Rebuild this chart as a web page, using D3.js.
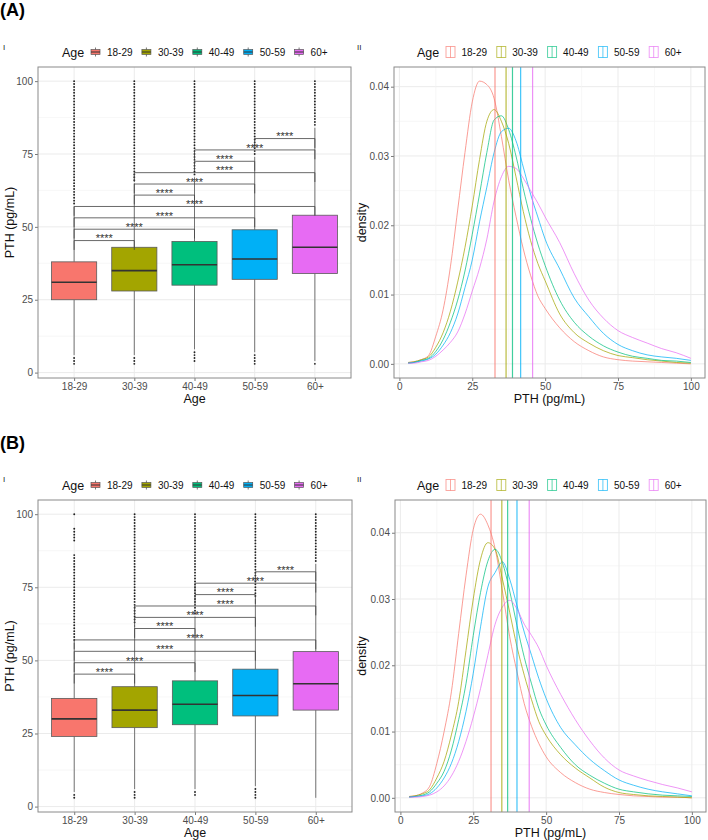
<!DOCTYPE html>
<html><head><meta charset="utf-8">
<script src="https://cdn.jsdelivr.net/npm/d3@7"></script>
<style>body{margin:0;background:#fff;} svg{display:block;}</style>
</head><body><svg id="c" width="708" height="840"></svg>
<script>
// ---------------- DATA ----------------
const ageGroups = ["18-29","30-39","40-49","50-59","60+"];
const colors = ["#F8766D","#A3A500","#00BF7D","#00B0F6","#E76BF3"];
const boxYTicks = [0,25,50,75,100];
const densXTicks = [0,25,50,75,100];
const densYTicks = [0,0.01,0.02,0.03,0.04];

// Panel A boxplot stats
const boxA_q1  = [25,28,30,32,34];
const boxA_med = [31,35,37,39,43];
const boxA_q3  = [38,43,45,49,54];
const boxA_lo  = [6,6,8,7,4];
const boxA_hi  = [57,65,67,74,84];
const outA_1829 = [3,4,5,58,59,60,61,62,63,64,65,66,67,68,69,70,71,72,73,74,75,76,77,78,79,80,81,82,83,84,85,86,87,88,89,90,91,92,93,94,95,96,97,98,99,100];
const outA_3039 = [3,4,5,66,67,68,69,70,71,72,73,74,75,76,77,78,79,80,81,82,83,84,85,86,87,88,89,90,91,92,93,94,95,96,97,98,99,100];
const outA_4049 = [4,5,6,7,68,69,70,71,72,73,74,75,76,77,78,79,80,81,82,83,84,85,86,87,88,89,90,91,92,93,94,95,96,97,98,99,100];
const outA_5059 = [3,4,5,6,75,76,77,78,79,80,81,82,83,84,85,86,87,88,89,90,91,92,93,94,95,96,97,98,99,100];
const outA_60   = [3,85,86,87,88,89,90,91,92,93,94,95,96,97,98,99,100];

// Panel B boxplot stats
const boxB_q1  = [24,27,28,31,33];
const boxB_med = [30,33,35,38,42];
const boxB_q3  = [37,41,43,47,53];
const boxB_lo  = [5,6,6,7,3];
const boxB_hi  = [56,62,65,71,83];
const outB_1829 = [3,4,57,58,59,60,61,62,63,64,65,66,67,68,69,70,71,72,73,74,75,76,77,78,79,80,81,82,83,84,85,86,91,92,93,94,95,100];
const outB_3039 = [3,4,5,63,64,65,66,67,68,69,70,71,72,73,74,75,76,77,78,79,80,81,82,83,84,85,86,87,88,89,90,91,92,93,94,95,96,97,98,99,100];
const outB_4049 = [4,5,66,67,68,69,70,71,72,73,74,75,76,77,78,79,80,81,82,83,84,85,86,87,88,89,90,91,92,93,94,95,96,97,98,99,100];
const outB_5059 = [3,4,5,6,72,73,74,75,76,77,78,79,80,81,82,83,84,85,86,87,88,89,90,91,92,93,94,95,96,97,98,99,100];
const outB_60   = [84,85,86,87,88,89,90,91,92,93,94,95,96,97,98,99,100];

// significance brackets (same in both panels)
const bracketPairs = [[0,1],[0,2],[0,3],[0,4],[1,2],[1,3],[1,4],[2,3],[2,4],[3,4]];
const bracketY = [45.3,49.2,53.1,57.0,60.9,64.7,68.6,72.5,76.4,80.3];
const bracketLabel = "****";

// density curves
const densX = [3,5,7.5,10,12.5,15,17.5,20,22.5,25,27.5,30,32.5,35,37.5,40,42.5,45,47.5,50,55,60,65,70,75,80,85,90,95,100];
const densA_1829 = [0.0002,0.0003,0.0006,0.0012,0.0040,0.0078,0.0140,0.0222,0.0305,0.0378,0.0408,0.0403,0.0383,0.0328,0.0265,0.0213,0.0166,0.0128,0.0098,0.0080,0.0052,0.0032,0.0019,0.0010,0.0006,0.0004,0.0003,0.0002,0.0001,0.0000];
const densA_3039 = [0.0002,0.0003,0.0006,0.0010,0.0024,0.0045,0.0076,0.0118,0.0168,0.0228,0.0295,0.0350,0.0367,0.0350,0.0318,0.0270,0.0220,0.0178,0.0145,0.0120,0.0072,0.0045,0.0030,0.0019,0.0012,0.0009,0.0006,0.0004,0.0002,0.0001];
const densA_4049 = [0.0001,0.0002,0.0005,0.0008,0.0018,0.0035,0.0060,0.0092,0.0134,0.0187,0.0245,0.0305,0.0352,0.0358,0.0338,0.0300,0.0253,0.0210,0.0173,0.0142,0.0092,0.0060,0.0040,0.0026,0.0017,0.0011,0.0008,0.0005,0.0004,0.0002];
const densA_5059 = [0.0001,0.0002,0.0004,0.0007,0.0014,0.0027,0.0045,0.0072,0.0110,0.0150,0.0205,0.0255,0.0305,0.0335,0.0340,0.0322,0.0284,0.0245,0.0212,0.0180,0.0137,0.0095,0.0068,0.0044,0.0028,0.0019,0.0013,0.0010,0.0008,0.0005];
const densA_60   = [0.0001,0.0001,0.0003,0.0005,0.0011,0.0020,0.0031,0.0046,0.0072,0.0105,0.0138,0.0180,0.0235,0.0270,0.0285,0.0282,0.0268,0.0250,0.0232,0.0212,0.0175,0.0130,0.0092,0.0066,0.0048,0.0038,0.0030,0.0022,0.0016,0.0008];
const meansA = [32.8,36.6,38.8,41.6,45.7];

const densB_1829 = [0.0002,0.0003,0.0007,0.0017,0.0052,0.0100,0.0160,0.0248,0.0335,0.0405,0.0428,0.0412,0.0376,0.0312,0.0243,0.0190,0.0142,0.0108,0.0082,0.0062,0.0038,0.0023,0.0013,0.0008,0.0005,0.0003,0.0002,0.0001,0.0001,0.0000];
const densB_3039 = [0.0002,0.0003,0.0006,0.0012,0.0030,0.0055,0.0095,0.0145,0.0222,0.0300,0.0360,0.0385,0.0375,0.0330,0.0280,0.0228,0.0185,0.0148,0.0115,0.0094,0.0065,0.0045,0.0030,0.0016,0.0008,0.0005,0.0003,0.0002,0.0001,0.0000];
const densB_4049 = [0.0001,0.0002,0.0004,0.0009,0.0022,0.0040,0.0072,0.0118,0.0172,0.0245,0.0310,0.0357,0.0375,0.0355,0.0312,0.0260,0.0212,0.0172,0.0135,0.0110,0.0076,0.0050,0.0034,0.0022,0.0013,0.0009,0.0006,0.0004,0.0003,0.0002];
const densB_5059 = [0.0001,0.0002,0.0003,0.0006,0.0015,0.0030,0.0052,0.0085,0.0130,0.0188,0.0258,0.0318,0.0340,0.0356,0.0330,0.0290,0.0250,0.0215,0.0180,0.0150,0.0106,0.0080,0.0058,0.0041,0.0027,0.0019,0.0013,0.0009,0.0006,0.0003];
const densB_60   = [0.0001,0.0001,0.0002,0.0004,0.0009,0.0018,0.0033,0.0055,0.0085,0.0122,0.0165,0.0215,0.0262,0.0288,0.0298,0.0285,0.0262,0.0245,0.0226,0.0200,0.0156,0.0118,0.0086,0.0060,0.0042,0.0033,0.0026,0.0020,0.0015,0.0009];
const meansB = [31.1,34.8,36.8,40.0,44.2];

// ---------------- DRAWING ----------------
const FONT = '"Liberation Sans", Arial, Helvetica, sans-serif';
const svg = d3.select("#c").style("font-family", FONT);
svg.append("rect").attr("width",708).attr("height",840).attr("fill","#fff");

function expand(lo, hi){ const p = (hi-lo)*0.05; return [lo-p, hi+p]; }

function gridH(g, P, y, vals, major){
  g.selectAll(null).data(vals).join("line")
    .attr("x1",P.x0).attr("x2",P.x1).attr("y1",d=>y(d)).attr("y2",d=>y(d))
    .attr("stroke", major ? "#EBEBEB" : "#F4F4F4").attr("stroke-width", major ? 1 : 0.7);
}
function gridV(g, P, xs, major){
  g.selectAll(null).data(xs).join("line")
    .attr("y1",P.y0).attr("y2",P.y1).attr("x1",d=>d).attr("x2",d=>d)
    .attr("stroke", major ? "#EBEBEB" : "#F4F4F4").attr("stroke-width", major ? 1 : 0.7);
}
function styleAxis(a){
  a.select(".domain").remove();
  a.selectAll(".tick line").attr("stroke","#555").attr("stroke-width",0.8);
  a.selectAll(".tick text").attr("fill","#4D4D4D").style("font-size","10px").style("font-family",FONT);
}
function border(g, P){
  g.append("rect").attr("x",P.x0).attr("y",P.y0).attr("width",P.x1-P.x0).attr("height",P.y1-P.y0)
   .attr("fill","none").attr("stroke","#8a8a8a").attr("stroke-width",1);
}
function axisTitles(g, P, xt, yt, yTitleX){
  g.append("text").attr("x",(P.x0+P.x1)/2).attr("y",P.y1+25).attr("text-anchor","middle")
    .style("font-size","12.5px").attr("fill","#111").text(xt);
  g.append("text").attr("transform",`translate(${yTitleX},${(P.y0+P.y1)/2}) rotate(-90)`)
    .attr("text-anchor","middle").style("font-size","12.5px").attr("fill","#111").text(yt);
}

function boxPanel(P, q1, med, q3, lo, hi, outs, legY, romanY){
  const g = svg.append("g");
  const x = d3.scalePoint().domain(ageGroups).range([P.x0,P.x1]).padding(0.6);
  const y = d3.scaleLinear().domain(expand(3,100)).range([P.y1,P.y0]);
  gridH(g,P,y,[12.5,37.5,62.5,87.5],false);
  gridH(g,P,y,boxYTicks,true);
  gridV(g,P,ageGroups.map(a=>x(a)),true);
  const bw = x.step()*0.75;
  ageGroups.forEach((a,i)=>{
    const cx = x(a);
    g.append("line").attr("x1",cx).attr("x2",cx).attr("y1",y(q3[i])).attr("y2",y(hi[i])).attr("stroke","#555").attr("stroke-width",0.8);
    g.append("line").attr("x1",cx).attr("x2",cx).attr("y1",y(q1[i])).attr("y2",y(lo[i])).attr("stroke","#555").attr("stroke-width",0.8);
    g.append("rect").attr("x",cx-bw/2).attr("y",y(q3[i])).attr("width",bw).attr("height",y(q1[i])-y(q3[i]))
      .attr("fill",colors[i]).attr("stroke","#5a5a5a").attr("stroke-width",0.8);
    g.append("line").attr("x1",cx-bw/2).attr("x2",cx+bw/2).attr("y1",y(med[i])).attr("y2",y(med[i])).attr("stroke","#333").attr("stroke-width",1.6);
    g.selectAll(null).data(outs[i]).join("circle").attr("cx",cx).attr("cy",d=>y(d)).attr("r",0.95).attr("fill","#222");
  });
  const tip = 0.03*(y.domain()[1]-y.domain()[0]);
  bracketPairs.forEach((p,k)=>{
    const xa = x(ageGroups[p[0]]), xb = x(ageGroups[p[1]]), v = bracketY[k];
    g.append("path").attr("d",`M${xa},${y(v-tip)}L${xa},${y(v)}L${xb},${y(v)}L${xb},${y(v-tip)}`)
      .attr("fill","none").attr("stroke","#444").attr("stroke-width",0.8);
    g.append("text").attr("x",(xa+xb)/2).attr("y",y(v)+1.8).attr("text-anchor","middle")
      .style("font-size","11px").attr("fill","#333").text(bracketLabel);
  });
  const ax = g.append("g").attr("transform",`translate(0,${P.y1})`).call(d3.axisBottom(x).tickSize(3).tickPadding(1.5));
  styleAxis(ax);
  const ay = g.append("g").attr("transform",`translate(${P.x0},0)`).call(d3.axisLeft(y).tickValues(boxYTicks).tickSize(3).tickPadding(2));
  styleAxis(ay);
  border(g,P);
  axisTitles(g,P,"Age","PTH (pg/mL)",14);
  // legend
  const lg = svg.append("g");
  lg.append("text").attr("x",62).attr("y",legY+5).style("font-size","12.5px").attr("fill","#111").text("Age");
  ageGroups.forEach((a,i)=>{
    const kx = 95.5 + i*50.9;
    lg.append("line").attr("x1",kx).attr("x2",kx).attr("y1",legY-4.5).attr("y2",legY+4.5).attr("stroke","#555").attr("stroke-width",0.8);
    lg.append("rect").attr("x",kx-4.5).attr("y",legY-2.5).attr("width",9).attr("height",5).attr("fill",colors[i]).attr("stroke","#5a5a5a").attr("stroke-width",0.7);
    lg.append("line").attr("x1",kx-4.5).attr("x2",kx+4.5).attr("y1",legY).attr("y2",legY).attr("stroke","#333").attr("stroke-width",1);
    lg.append("text").attr("x",kx+11.5).attr("y",legY+3.6).style("font-size","10px").attr("fill","#111").text(a);
  });
  svg.append("text").attr("x",3).attr("y",romanY).style("font-size","8px").attr("fill","#222").text("I");
}

function densPanel(P, series, means, legY, romanY){
  const g = svg.append("g");
  const x = d3.scaleLinear().domain(expand(3,100)).range([P.x0,P.x1]);
  const maxD = d3.max(series, s=>d3.max(s));
  const y = d3.scaleLinear().domain(expand(0,maxD)).range([P.y1,P.y0]);
  gridH(g,P,y,[0.005,0.015,0.025,0.035],false);
  gridH(g,P,y,densYTicks,true);
  gridV(g,P,[12.5,37.5,62.5,87.5].map(x),false);
  gridV(g,P,densXTicks.map(x),true);
  const line = d3.line().x((d,i)=>x(densX[i])).y(d=>y(d)).curve(d3.curveMonotoneX);
  series.forEach((s,i)=>{
    g.append("path").attr("d",line(s)).attr("fill","none").attr("stroke",colors[i]).attr("stroke-width",0.9).attr("stroke-opacity",0.8);
  });
  means.forEach((m,i)=>{
    g.append("line").attr("x1",x(m)).attr("x2",x(m)).attr("y1",P.y0).attr("y2",P.y1)
      .attr("stroke",colors[i]).attr("stroke-width",1.2).attr("stroke-opacity",0.75);
  });
  const ax = g.append("g").attr("transform",`translate(0,${P.y1})`).call(d3.axisBottom(x).tickValues(densXTicks).tickSize(3).tickPadding(1.5));
  styleAxis(ax);
  const ay = g.append("g").attr("transform",`translate(${P.x0},0)`).call(d3.axisLeft(y).tickValues(densYTicks).tickFormat(d3.format(".2f")).tickSize(3).tickPadding(2));
  styleAxis(ay);
  border(g,P);
  axisTitles(g,P,"PTH (pg/mL)","density",366);
  const lg = svg.append("g");
  lg.append("text").attr("x",417).attr("y",legY+5).style("font-size","12.5px").attr("fill","#111").text("Age");
  ageGroups.forEach((a,i)=>{
    const kx = 450.5 + i*50.8;
    lg.append("rect").attr("x",kx-4.5).attr("y",legY-5.5).attr("width",9).attr("height",11).attr("fill","none")
      .attr("stroke",colors[i]).attr("stroke-width",0.9).attr("stroke-opacity",0.7);
    lg.append("line").attr("x1",kx).attr("x2",kx).attr("y1",legY-5.5).attr("y2",legY+5.5).attr("stroke",colors[i]).attr("stroke-width",0.9).attr("stroke-opacity",0.7);
    lg.append("text").attr("x",kx+11).attr("y",legY+3.6).style("font-size","10px").attr("fill","#111").text(a);
  });
  svg.append("text").attr("x",357).attr("y",romanY).style("font-size","8px").attr("fill","#222").text("II");
}

// Titles
svg.append("text").attr("x",0).attr("y",16).style("font-size","18px").style("font-weight","bold").attr("fill","#000").text("(A)");
svg.append("text").attr("x",0).attr("y",449).style("font-size","18px").style("font-weight","bold").attr("fill","#000").text("(B)");

boxPanel({x0:38,x1:351,y0:67,y1:378}, boxA_q1, boxA_med, boxA_q3, boxA_lo, boxA_hi,
  [outA_1829,outA_3039,outA_4049,outA_5059,outA_60], 52, 50);
densPanel({x0:394,x1:705,y0:67,y1:378}, [densA_1829,densA_3039,densA_4049,densA_5059,densA_60], meansA, 52, 50);
boxPanel({x0:38,x1:352,y0:500,y1:812}, boxB_q1, boxB_med, boxB_q3, boxB_lo, boxB_hi,
  [outB_1829,outB_3039,outB_4049,outB_5059,outB_60], 485, 482);
densPanel({x0:395,x1:706,y0:500,y1:812}, [densB_1829,densB_3039,densB_4049,densB_5059,densB_60], meansB, 485, 482);
</script></body></html>
